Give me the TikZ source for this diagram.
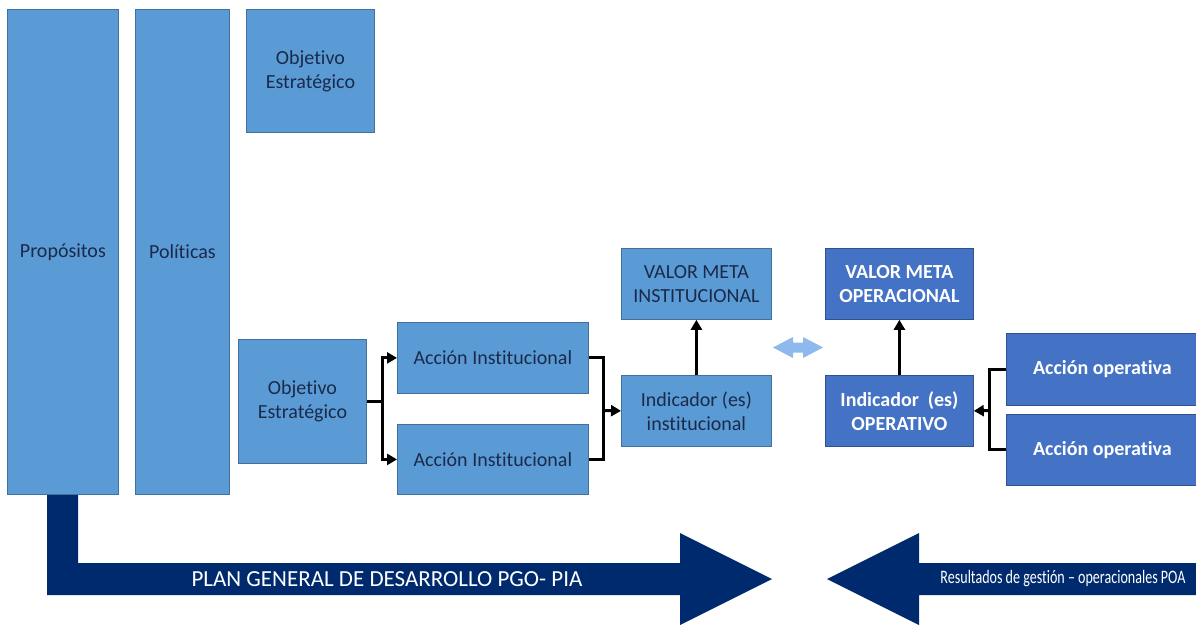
\documentclass[tikz,border=0pt]{standalone}
\usepackage{fontspec}
\setmainfont{Carlito}[Ligatures={NoCommon}]
\usetikzlibrary{arrows.meta}
\definecolor{lb}{HTML}{5B9BD5}
\definecolor{lbd}{HTML}{41719C}
\definecolor{db}{HTML}{4472C4}
\definecolor{dbd}{HTML}{2F528F}
\definecolor{navy}{HTML}{002A6E}
\definecolor{txt}{HTML}{1A2A4A}
\definecolor{pale}{HTML}{8FB8EC}
\begin{document}
\begin{tikzpicture}[x=1pt,y=-1pt,
  lbox/.style={draw=lbd, fill=lb, line width=0.8pt, inner sep=2pt, align=center, text=txt, anchor=north west, font=\fontsize{20}{24}\selectfont},
  dbox/.style={draw=dbd, fill=db, line width=0.8pt, inner sep=2pt, align=center, text=white, anchor=north west, font=\fontsize{20}{24}\selectfont\bfseries},
  link/.style={line width=3pt, draw=black},
  conn/.style={link, -{Triangle[length=10pt,width=11pt]}},
  bigarrow/.style={fill=navy},
  arrowtext/.style={text=white, inner sep=0pt}]
\useasboundingbox (0,0) rectangle (1196,624);
\clip (0,0) rectangle (1196,624);
\fill[white] (0,0) rectangle (1196,624);
% big arrows
\fill[bigarrow] (47,494) -- (78,494) -- (78,563) -- (680,563) -- (680,533) -- (772,579) -- (680,625) -- (680,595) -- (47,595) -- cycle;
\fill[bigarrow] (1200,563) -- (919,563) -- (919,533) -- (827,579) -- (919,625) -- (919,595) -- (1200,595) -- cycle;
\node[arrowtext, font=\fontsize{23}{26}\selectfont] (plan) at (387,579) {PLAN GENERAL DE DESARROLLO PGO- PIA};
\node[arrowtext, font=\fontsize{19}{22}\selectfont] (res) at (1063,579) {\scalebox{0.74}[1]{Resultados de gestión – operacionales POA}};
% boxes
\node[lbox, minimum width=111pt, minimum height=485pt] (prop) at (7,9) {Propósitos};
\node[lbox, minimum width=94pt, minimum height=485pt] (pol) at (135,9) {Políticas};
\node[lbox, minimum width=128pt, minimum height=123pt] (obj1) at (246,9) {Objetivo\\Estratégico};
\node[lbox, minimum width=128pt, minimum height=124pt] (obj2) at (238,339) {Objetivo\\Estratégico};
\node[lbox, minimum width=191pt, minimum height=71pt] (ai1) at (397,322) {Acción Institucional};
\node[lbox, minimum width=191pt, minimum height=70pt] (ai2) at (397,424) {Acción Institucional};
\node[lbox, minimum width=150pt, minimum height=71pt] (vi) at (621,248) {VALOR META\\INSTITUCIONAL};
\node[lbox, minimum width=150pt, minimum height=71pt] (ii) at (621,375) {Indicador (es)\\institucional};
\node[dbox, minimum width=148pt, minimum height=71pt] (vo) at (825,248) {VALOR META\\OPERACIONAL};
\node[dbox, minimum width=148pt, minimum height=71pt] (io) at (825,375) {Indicador\ \ (es)\\OPERATIVO};
\node[dbox, minimum width=192pt, minimum height=72pt] (ao1) at (1006,333) {Acción operativa};
\node[dbox, minimum width=192pt, minimum height=71pt] (ao2) at (1006,414) {Acción operativa};
% connectors
\draw[conn] (obj2.east) -- ++(16,0) |- (ai1.west);
\draw[conn] (obj2.east) -- ++(16,0) |- (ai2.west);
\coordinate (j1) at (603,410.5);
\draw[link] (ai1.east) -| (j1) |- (ai2.east);
\draw[conn] (j1) -- (ii.west);
\draw[conn] (ii.north) -- (vi.south);
\draw[conn] (io.north) -- (vo.south);
\coordinate (j2) at (989,410.5);
\draw[link] (ao1.west) -| (j2) |- (ao2.west);
\draw[conn] (j2) -- (io.east);
% double arrow
\fill[pale] (773,347.5) -- (793,337) -- (793,342.5) -- (803,342.5) -- (803,337) -- (823,347.5) -- (803,358) -- (803,352.5) -- (793,352.5) -- (793,358) -- cycle;
\end{tikzpicture}
\end{document}
